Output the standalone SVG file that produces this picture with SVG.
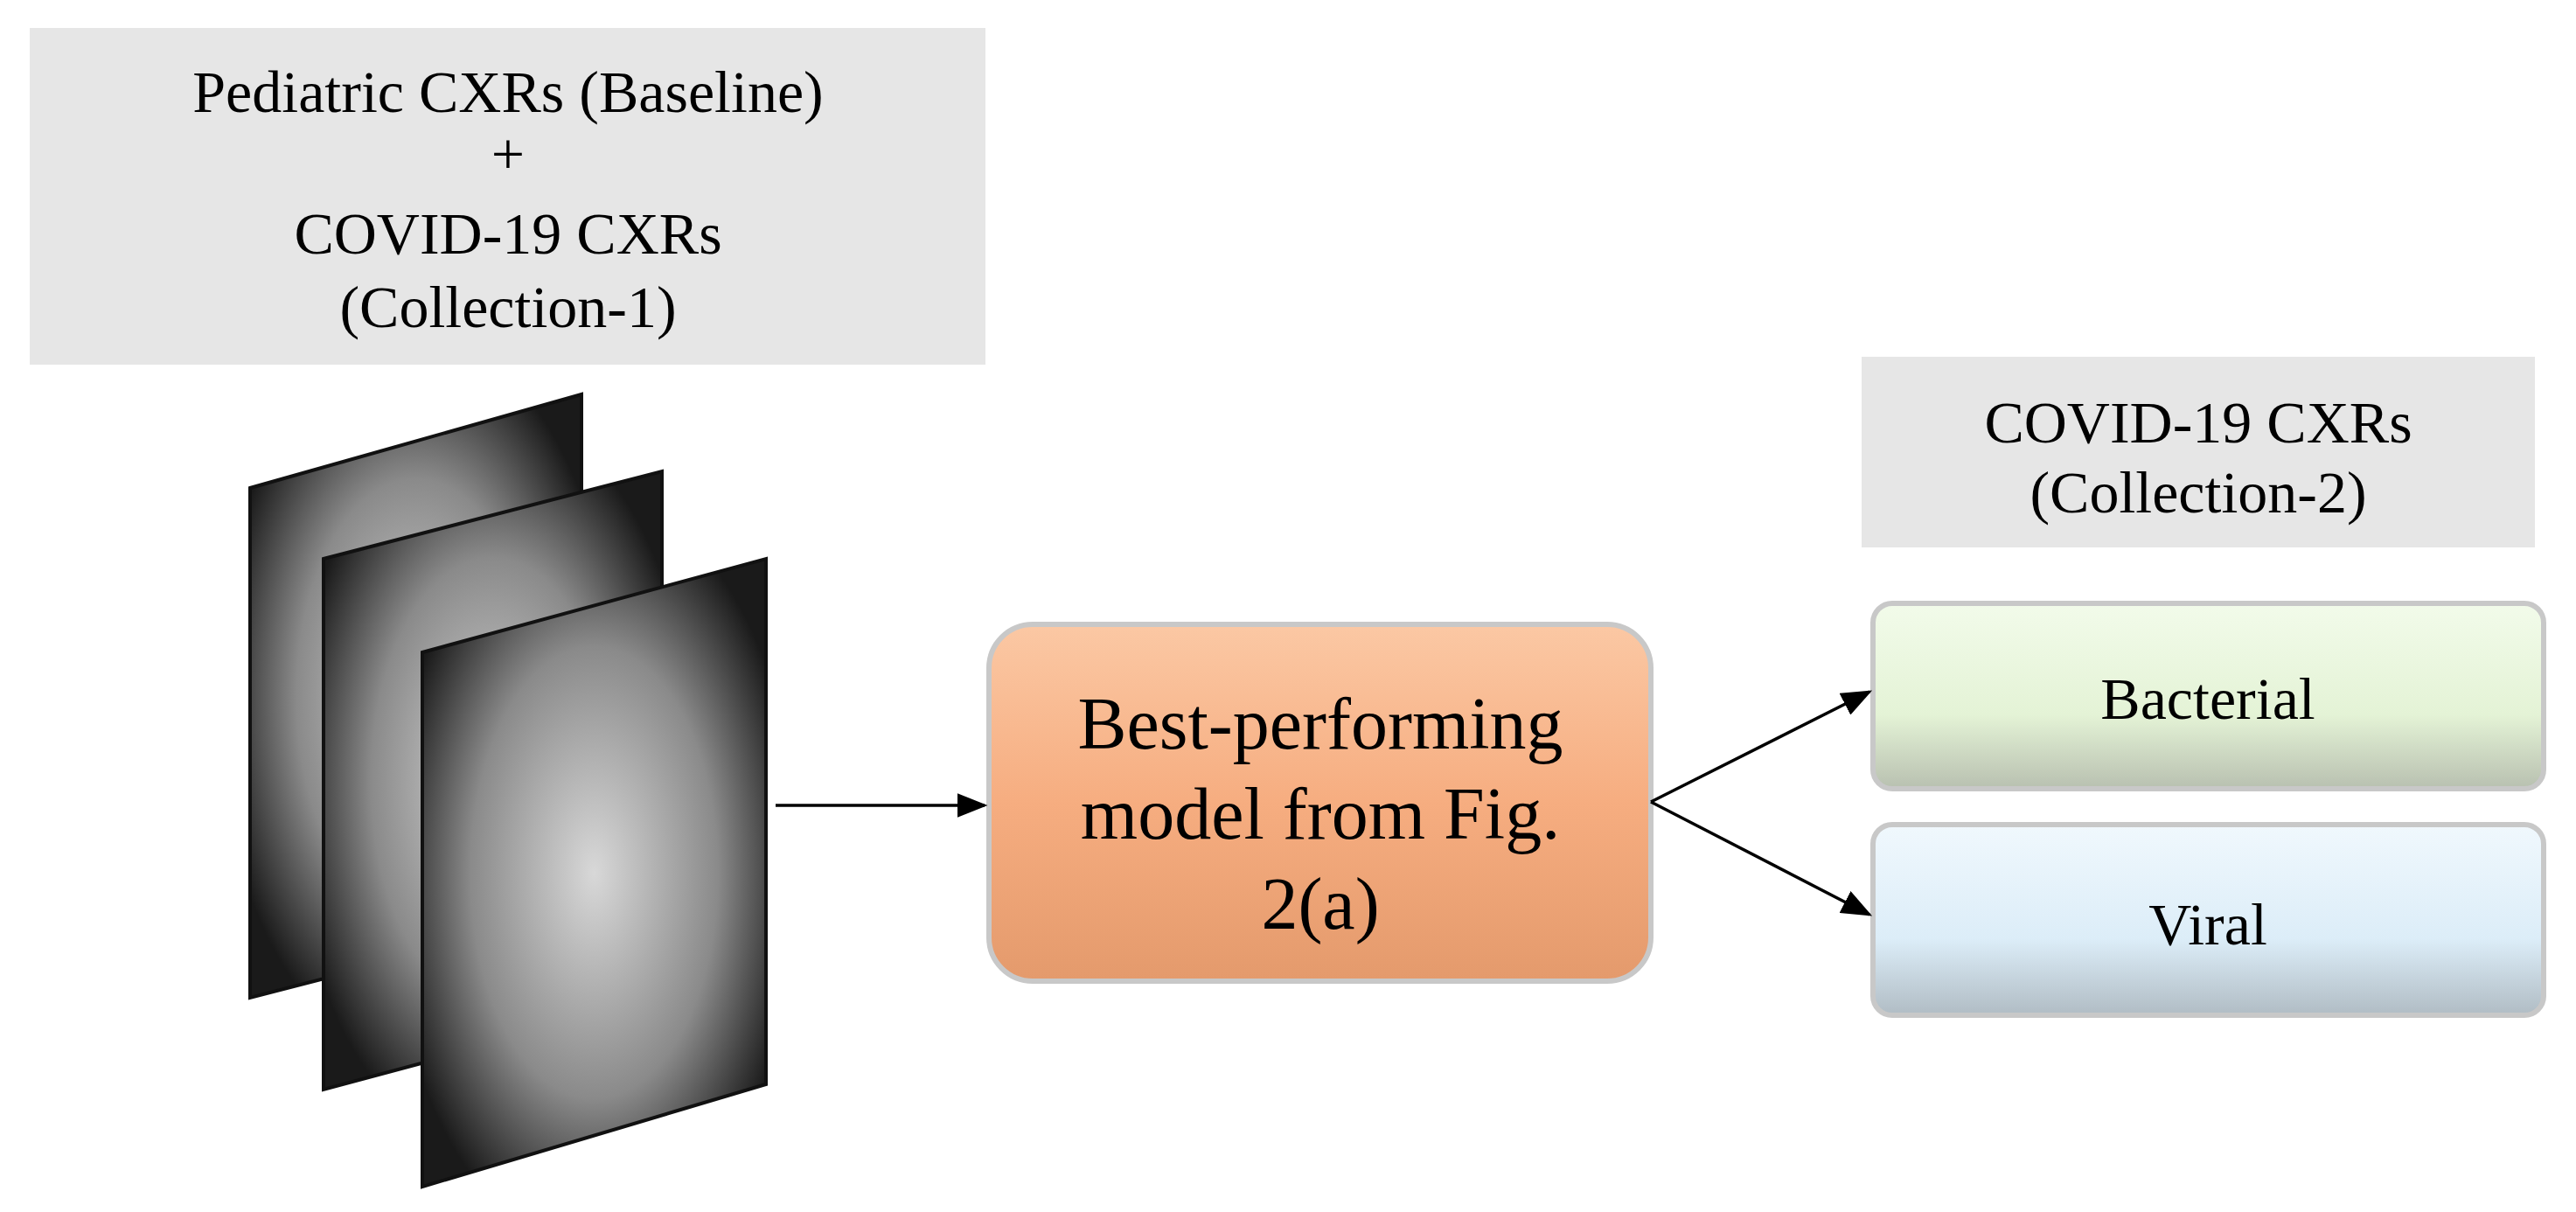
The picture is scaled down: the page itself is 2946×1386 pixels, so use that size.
<svg xmlns="http://www.w3.org/2000/svg" width="2946" height="1386" viewBox="0 0 2946 1386">
<defs>
<style>
.t{font-family:"Liberation Serif",serif;fill:#000;text-anchor:middle}
.g{fill:#e6e6e6}
.c{stroke:#000;stroke-width:3.5;fill:none}
</style>
<marker id="ah" markerWidth="10" markerHeight="8" refX="9" refY="4" orient="auto" markerUnits="strokeWidth"><path d="M0,0L10,4L0,8z" fill="#000"/></marker>
<linearGradient id="or" x1="0" y1="0" x2="0" y2="1"><stop offset="0" stop-color="#fbc8a4"/><stop offset="0.5" stop-color="#f6ad80"/><stop offset="1" stop-color="#e49a6c"/></linearGradient>
<linearGradient id="gr" x1="0" y1="0" x2="0" y2="1"><stop offset="0" stop-color="#f2fbea"/><stop offset="0.6" stop-color="#e4f3d6"/><stop offset="1" stop-color="#b8c0b0"/></linearGradient>
<linearGradient id="bl" x1="0" y1="0" x2="0" y2="1"><stop offset="0" stop-color="#f0f8fd"/><stop offset="0.6" stop-color="#dcedf8"/><stop offset="1" stop-color="#b0bcc4"/></linearGradient>
<radialGradient id="xr" cx="0.5" cy="0.5" r="0.6"><stop offset="0" stop-color="#d8d8d8"/><stop offset="0.6" stop-color="#8a8a8a"/><stop offset="1" stop-color="#1a1a1a"/></radialGradient>
</defs>
<g id="baseline"><rect class="g" x="34" y="32" width="1093" height="385"/>
<text class="t" font-size="68" x="581" y="128">Pediatric CXRs (Baseline)</text>
<text class="t" font-size="68" x="581" y="199">+</text>
<text class="t" font-size="68" x="581" y="290">COVID-19 CXRs</text>
<text class="t" font-size="68" x="581" y="374">(Collection-1)</text></g>
<g id="xrays">
<polygon points="286,558 665,451 665,1043 286,1141" fill="url(#xr)" stroke="#111" stroke-width="4"/>
<polygon points="370,639 757,539 757,1142 370,1246" fill="url(#xr)" stroke="#111" stroke-width="4"/>
<polygon points="483,746 876,639 876,1240 483,1357" fill="url(#xr)" stroke="#111" stroke-width="4"/>
</g>
<g id="collection2"><rect class="g" x="2129" y="408" width="770" height="218"/>
<text class="t" font-size="68" x="2514" y="506">COVID-19 CXRs</text>
<text class="t" font-size="68" x="2514" y="586">(Collection-2)</text></g>
<g id="model"><rect x="1131" y="714" width="757" height="408" rx="50" fill="url(#or)" stroke="#c8c8c8" stroke-width="6"/>
<text class="t" font-size="84" x="1510" y="856">Best-performing</text>
<text class="t" font-size="84" x="1510" y="959">model from Fig.</text>
<text class="t" font-size="84" x="1510" y="1062">2(a)</text></g>
<g id="bacterial"><rect x="2142" y="690" width="767" height="212" rx="22" fill="url(#gr)" stroke="#c8c8c8" stroke-width="6"/>
<text class="t" font-size="68" x="2525" y="822">Bacterial</text></g>
<g id="viral"><rect x="2142" y="943" width="767" height="218" rx="22" fill="url(#bl)" stroke="#c8c8c8" stroke-width="6"/>
<text class="t" font-size="68" x="2525" y="1080">Viral</text></g>
<g id="connectors">
<line class="c" x1="887" y1="921" x2="1126" y2="921" marker-end="url(#ah)"/>
<line class="c" x1="1888" y1="917" x2="2138" y2="791" marker-end="url(#ah)"/>
<line class="c" x1="1888" y1="917" x2="2138" y2="1046" marker-end="url(#ah)"/>
</g>
</svg>
